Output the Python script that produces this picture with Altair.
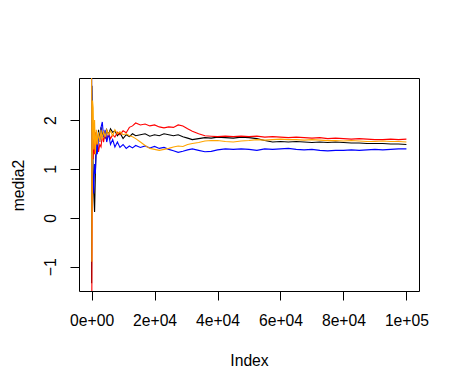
import altair as alt
import pandas as pd

IDX = [1, 100, 300, 500, 700, 950, 1200, 1500, 1800, 2200, 2600, 3000, 3400, 3800,
       4300, 4800, 5400, 6000, 6700, 7400, 8200, 9000, 10000, 11000, 12000, 13000,
       14000, 15500, 17000, 18500, 20000, 21500, 23000, 24500, 26000, 27500, 29000,
       30500, 32000, 34000, 36000, 38000, 40000, 42500, 45000, 47500, 50000, 52500,
       55000, 57500, 60000, 62500, 65000, 67500, 70000, 72500, 75000, 77500, 80000,
       82500, 85000, 87500, 90000, 92500, 95000, 97500, 100000]

media2 = [-1.34, 2.70, 1.60, 0.90, 0.50, 0.12, 0.90, 1.55, 1.40, 1.80, 1.60, 1.85, 1.65, 1.78,
          1.62, 1.80, 1.70, 1.82, 1.75, 1.78, 1.68, 1.74, 1.62, 1.70, 1.66, 1.72,
          1.68, 1.70, 1.72, 1.67, 1.70, 1.68, 1.72, 1.70, 1.68, 1.70, 1.66,
          1.63, 1.60, 1.62, 1.64, 1.63, 1.65, 1.64, 1.63, 1.65, 1.64, 1.62,
          1.58, 1.55, 1.56, 1.55, 1.56, 1.55, 1.54, 1.55, 1.54, 1.55, 1.54,
          1.53, 1.53, 1.52, 1.52, 1.52, 1.51, 1.51, 1.50]

red = [-3.00, -1.10, 1.90, 1.20, 1.60, 1.30, 1.75, 1.45, 1.60, 1.35, 1.50, 1.45, 1.70, 1.55,
       1.75, 1.60, 1.72, 1.62, 1.70, 1.65, 1.75, 1.70, 1.78, 1.74, 1.85, 1.88,
       1.94, 1.90, 1.92, 1.88, 1.90, 1.86, 1.84, 1.86, 1.85, 1.90, 1.88,
       1.82, 1.77, 1.72, 1.68, 1.67, 1.66, 1.67, 1.66, 1.67, 1.66, 1.67,
       1.65, 1.66, 1.65, 1.64, 1.65, 1.64, 1.63, 1.64, 1.62, 1.63, 1.62,
       1.61, 1.62, 1.61, 1.60, 1.60, 1.61, 1.60, 1.61]

blue = [3.20, 1.40, 1.00, 0.80, 0.50, 1.10, 0.90, 1.50, 1.30, 1.70, 1.55, 1.85, 1.96, 1.65,
        1.80, 1.55, 1.72, 1.50, 1.60, 1.45, 1.55, 1.44, 1.50, 1.42, 1.47, 1.43,
        1.48, 1.44, 1.47, 1.43, 1.46, 1.42, 1.44, 1.40, 1.37, 1.34, 1.36,
        1.39, 1.41, 1.38, 1.35, 1.36, 1.39, 1.41, 1.40, 1.41, 1.40, 1.38,
        1.41, 1.40, 1.41, 1.42, 1.40, 1.39, 1.40, 1.38, 1.37, 1.38, 1.38,
        1.39, 1.38, 1.39, 1.40, 1.39, 1.40, 1.41, 1.41]

orange = [3.20, -0.90, 2.40, 2.25, 1.40, 2.00, 1.30, 1.80, 1.50, 1.75, 1.55, 1.80, 1.60, 1.78,
          1.65, 1.80, 1.70, 1.78, 1.68, 1.80, 1.72, 1.76, 1.70, 1.72, 1.68, 1.66,
          1.62, 1.55, 1.48, 1.42, 1.40, 1.38, 1.40, 1.42, 1.45, 1.47, 1.46,
          1.50, 1.52, 1.54, 1.57, 1.58, 1.58, 1.56, 1.55, 1.57, 1.58, 1.60,
          1.59, 1.60, 1.61, 1.60, 1.60, 1.59, 1.60, 1.59, 1.58, 1.58, 1.57,
          1.58, 1.57, 1.56, 1.56, 1.57, 1.56, 1.56, 1.55]

SERIES = [("media2", media2, "#000000"), ("red", red, "#FF0000"),
          ("blue", blue, "#0000FF"), ("orange", orange, "#FFA500")]

X_TICKS = [0, 20000, 40000, 60000, 80000, 100000]
Y_TICKS = [-1, 0, 1, 2]

FONT = "Liberation Sans"
FS = 15.7

xscale = alt.Scale(domain=[-4000, 104000], nice=False, zero=False)
yscale = alt.Scale(domain=[-1.497, 2.86], nice=False, zero=False)

xaxis = alt.Axis(values=X_TICKS, grid=False, domain=False, tickSize=9, tickColor="black",
                 labelExpr="datum.value == 0 ? '0e+00' : datum.value == 100000 ? '1e+05' : (datum.value/10000) + 'e+04'",
                 labelFont=FONT, labelFontSize=FS, labelColor="black", labelPadding=13.5,
                 labelFlush=False, labelOverlap=False,
                 title="Index", titleFont=FONT, titleFontSize=FS, titleFontWeight="normal",
                 titleColor="black", titleX=170, titleY=74, titleBaseline="alphabetic",
                 titleAlign="center")
yaxis = alt.Axis(values=Y_TICKS, grid=False, domain=False, tickSize=9, tickColor="black",
                 labelAngle=270, labelAlign="center", labelBaseline="alphabetic",
                 labelFont=FONT, labelFontSize=FS, labelColor="black", labelPadding=14.3,
                 labelFlush=False, labelOverlap=False,
                 title="media2", titleFont=FONT, titleFontSize=FS, titleFontWeight="normal",
                 titleColor="black", titleX=-56, titleY=107, titleAngle=270,
                 titleBaseline="alphabetic", titleAlign="center")

layers = []
for name, vals, col in SERIES:
    df = pd.DataFrame({"Index": IDX, "value": vals})
    layers.append(
        alt.Chart(df).mark_line(color=col, strokeWidth=1.1, clip=True).encode(
            x=alt.X("Index:Q", scale=xscale, axis=xaxis),
            y=alt.Y("value:Q", scale=yscale, axis=yaxis),
        )
    )

chart = alt.layer(*layers).properties(
    width=340, height=213,
    background="white",
    autosize=alt.AutoSizeParams(type="none"),
    padding={"left": 71, "top": 70, "right": 33, "bottom": 90},
).configure_view(stroke="black", strokeWidth=1)

chart.save("out.html", embed_options={"renderer": "svg", "actions": False})
